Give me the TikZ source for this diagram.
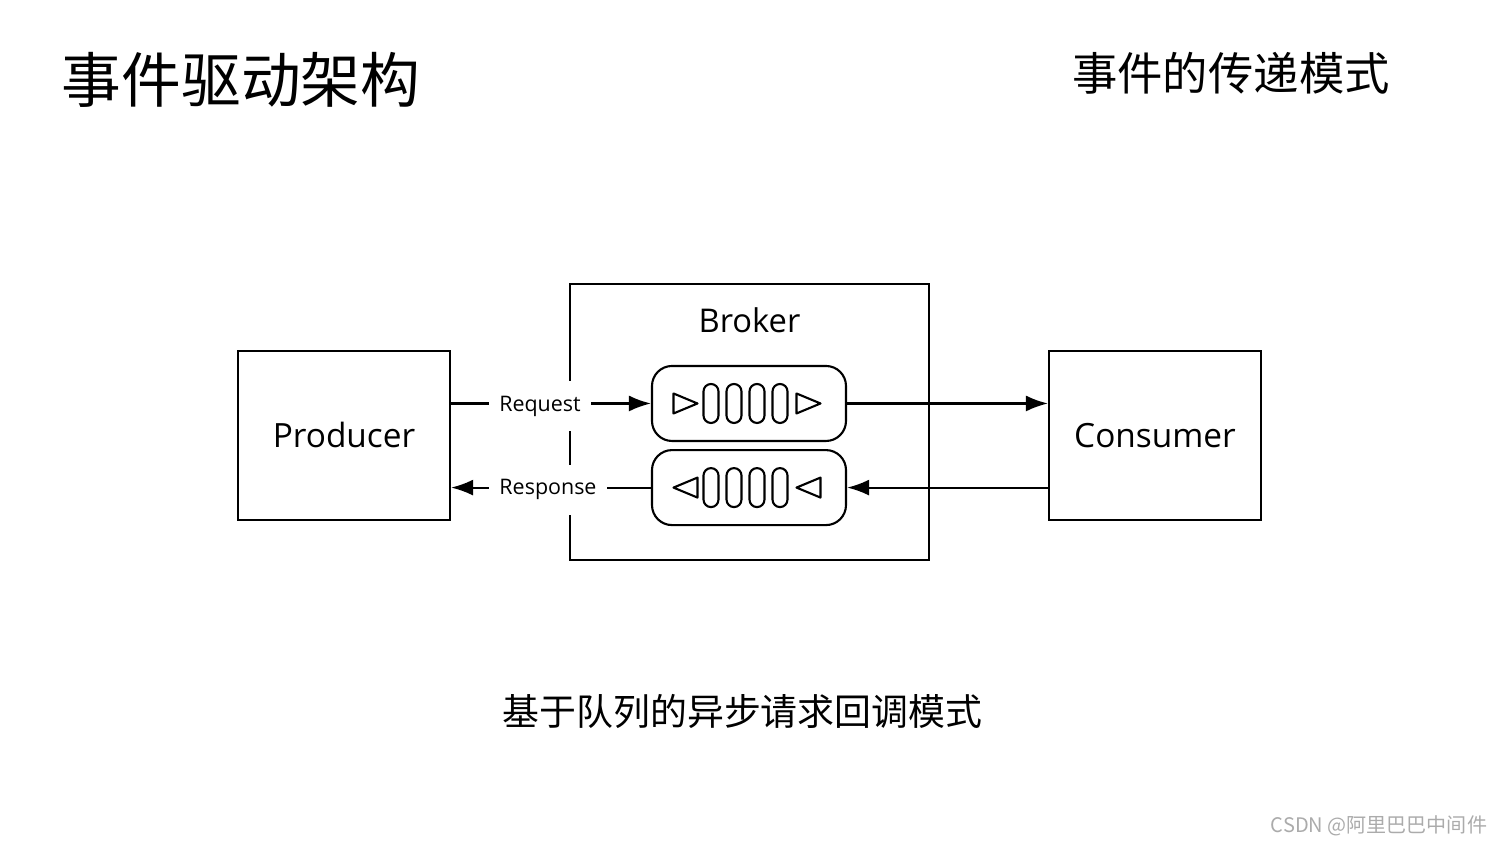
\documentclass[tikz,border=0pt]{standalone}
\usepackage{fontspec}
\setmainfont{Open Sans}
\newfontfamily\cjk{Noto Sans CJK SC}
\usepackage{tikz}
\usetikzlibrary{arrows.meta,positioning}

\begin{document}
\begin{tikzpicture}[align=center]
    \tikzset{
        box/.style      =   { rectangle
                            , draw=black
                            , line width=0.6pt
                            , minimum width=2.12cm
                            , minimum height=1.69cm
                            , font=\fontsize{9.5}{11}\selectfont
        }
        , queue/.style  =   { rectangle
                            , rounded corners=0.2cm
                            , draw=black
                            , line width=0.6pt
                            , minimum width=1.94cm
                            , minimum height=0.75cm
        }
        , lbl/.style    =   { fill=white
                            , inner xsep=0.1cm
                            , minimum height=0.5cm
                            , font=\fontsize{6.1}{7}\selectfont
        }
        , arrow/.style  =   { line width=0.6pt
                            , -{Latex[length=0.22cm,width=0.16cm]}
        }
        , pill/.style   =   { draw=black
                            , line width=0.6pt
                            , rounded corners=0.075cm
        }
        , tri/.style    =   { draw=black
                            , line width=0.6pt
                            , line join=round
        }
    }
    \useasboundingbox (0,0) rectangle (15,8.44);

    % titles
    \node(title)   at (2.41,7.64)  {\cjk\fontsize{17}{20}\selectfont 事件驱动架构};
    \node(subtitle) at (12.31,7.71) {\cjk\fontsize{12.9}{15}\selectfont 事件的传递模式};
    \node(caption) at (7.425,1.32) {\cjk\fontsize{10.5}{12}\selectfont 基于队列的异步请求回调模式};
    \node(mark)    at (13.79,0.18) {\color{black!33}\cjk\fontsize{5.7}{7}\selectfont CSDN @阿里巴巴中间件};

    % boxes
    \node(broker)[box, minimum width=3.59cm, minimum height=2.76cm] at (7.495,4.22) {};
    \node(bname)[below=0.12cm of broker.north, font=\fontsize{9.3}{11}\selectfont] {Broker};
    \node(q1)[queue] at (7.49,4.405) {};
    \node(q2)[queue, below=0.07cm of q1] {};
    \node(prod)[box] at (3.44,4.085) {Producer};
    \node(cons)[box] at (11.55,4.085) {Consumer};

    % queue contents
    \foreach \q/\d in {q1/1, q2/-1} {
        \begin{scope}[shift={(\q.center)}, xshift=-0.035cm]
            \foreach \x in {-0.345,-0.115,0.115,0.345}
                \draw[pill] (\x-0.075,-0.195) rectangle (\x+0.075,0.195);
            \foreach \x in {-0.6,0.63}
                \draw[tri] (\x-\d*0.12,0.1) -- (\x+\d*0.12,0) -- (\x-\d*0.12,-0.1) -- cycle;
        \end{scope}
    }

    % connectors
    \draw[arrow] (prod.east |- q1.west) -- node[lbl, pos=0.445, yshift=-0.03cm] {Request} (q1.west);
    \draw[arrow] (q2.west) -- node[lbl, pos=0.515, yshift=-0.02cm] {Response} (prod.east |- q2.west);
    \draw[arrow] (q1.east) -- (cons.west |- q1.east);
    \draw[arrow] (cons.west |- q2.east) -- (q2.east);
\end{tikzpicture}
\end{document}
